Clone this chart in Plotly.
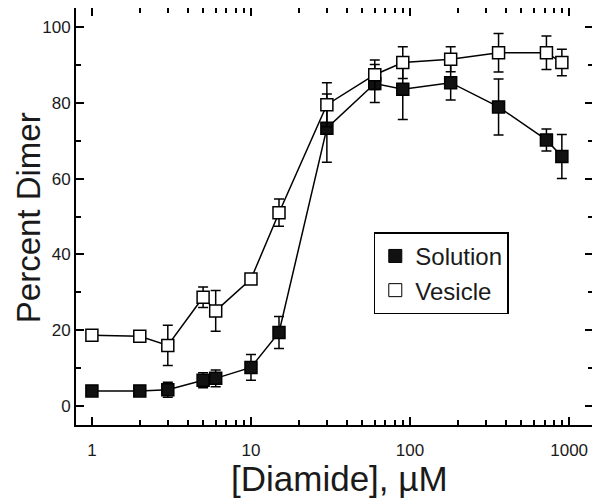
import plotly.graph_objects as go

diamide = [1, 2, 3, 5, 6, 10, 15, 30, 60, 90, 180, 360, 720, 900]
solution = [4.0, 4.0, 4.3, 6.8, 7.3, 10.2, 19.4, 73.3, 85.1, 83.6, 85.3, 78.9, 70.2, 65.8]
solution_err = [1.0, 1.0, 2.0, 2.0, 2.2, 3.4, 4.2, 9.0, 5.0, 8.0, 4.6, 7.4, 2.9, 5.8]
vesicle = [18.7, 18.4, 16.0, 28.7, 25.1, 33.5, 51.0, 79.5, 87.4, 90.6, 91.5, 93.2, 93.2, 90.6]
vesicle_err = [1.0, 1.0, 5.3, 2.7, 5.4, 1.0, 3.6, 5.8, 3.9, 4.2, 3.3, 5.1, 4.4, 3.5]

y_ticks = [0, 20, 40, 60, 80, 100]
y_minor_ticks = [10, 30, 50, 70, 90]
x_ticks = [1, 10, 100, 1000]
x_minor_ticks = [m * d for d in (1, 10, 100) for m in range(2, 10)]

X_RANGE = [-0.1, 3.15]
Y_RANGE = [-5, 105]

FONT = "Arial, Liberation Sans, Helvetica, sans-serif"
TXT = "#1a1a1a"

fig = go.Figure()

fig.add_trace(go.Scatter(
    x=diamide, y=solution, mode="lines+markers", name="Solution",
    showlegend=False,
    line=dict(color="black", width=1.5),
    marker=dict(symbol="square", size=12, color="#111111", line=dict(color="black", width=1.5)),
    error_y=dict(type="data", array=solution_err, color="black", thickness=1.5, width=5),
))
fig.add_trace(go.Scatter(
    x=diamide, y=vesicle, mode="lines+markers", name="Vesicle",
    showlegend=False,
    line=dict(color="black", width=1.5),
    marker=dict(symbol="square", size=12, color="white", line=dict(color="black", width=1.5)),
    error_y=dict(type="data", array=vesicle_err, color="black", thickness=1.5, width=5),
))

# legend-only entries (marker only)
fig.add_trace(go.Scatter(
    x=[None], y=[None], mode="markers", name="Solution",
    marker=dict(symbol="square", size=13, color="#111111", line=dict(color="black", width=1)),
))
fig.add_trace(go.Scatter(
    x=[None], y=[None], mode="markers", name="Vesicle",
    marker=dict(symbol="square", size=13, color="white", line=dict(color="black", width=1)),
))
# empty trace that carries the minor-tick overlay axes
fig.add_trace(go.Scatter(
    x=[None], y=[None], xaxis="x2", yaxis="y2", showlegend=False, hoverinfo="skip",
))

axis_common = dict(
    showline=True, linecolor="black", linewidth=2, mirror="allticks",
    ticks="inside", ticklen=8, tickwidth=1.5, tickcolor="black",
    showgrid=False, zeroline=False, automargin=False,
    tickfont=dict(family=FONT, size=17, color=TXT),
)
minor_common = dict(
    showline=False, mirror="allticks", ticks="inside", ticklen=5, tickwidth=1.5,
    tickcolor="black", showgrid=False, zeroline=False, automargin=False,
    showticklabels=False,
)

fig.update_layout(
    xaxis=dict(type="log", range=X_RANGE, tickvals=x_ticks,
               ticktext=[str(v) for v in x_ticks], ticklabelstandoff=9, **axis_common),
    yaxis=dict(range=Y_RANGE, tickvals=y_ticks, **axis_common),
    xaxis2=dict(type="log", range=X_RANGE, tickvals=x_minor_ticks, overlaying="x",
                anchor="y", side="bottom", **minor_common),
    yaxis2=dict(range=Y_RANGE, tickvals=y_minor_ticks, overlaying="y",
                anchor="x", side="left", **minor_common),
)

fig.add_annotation(
    text="[Diamide], µM", xref="paper", yref="paper", x=0.509, y=-0.128,
    xanchor="center", yanchor="middle", showarrow=False,
    font=dict(family=FONT, size=35, color=TXT),
)
fig.add_annotation(
    text="Percent Dimer", xref="paper", yref="paper", x=-0.0928, y=0.496,
    xanchor="center", yanchor="middle", showarrow=False, textangle=-90,
    font=dict(family=FONT, size=33, color=TXT),
)

# the page body adds an 8px offset, so the figure is sized/margined to compensate
fig.update_layout(
    width=592, height=493,
    margin=dict(l=68, r=7, t=0, b=76),
    plot_bgcolor="white", paper_bgcolor="white",
    font=dict(family=FONT, color=TXT),
    legend=dict(
        x=0.576, y=0.462, xanchor="left", yanchor="top",
        bordercolor="black", borderwidth=1.5, bgcolor="white",
        font=dict(family=FONT, size=24, color=TXT),
        tracegroupgap=0, itemsizing="trace",
    ),
)

fig.write_html("out.html")
